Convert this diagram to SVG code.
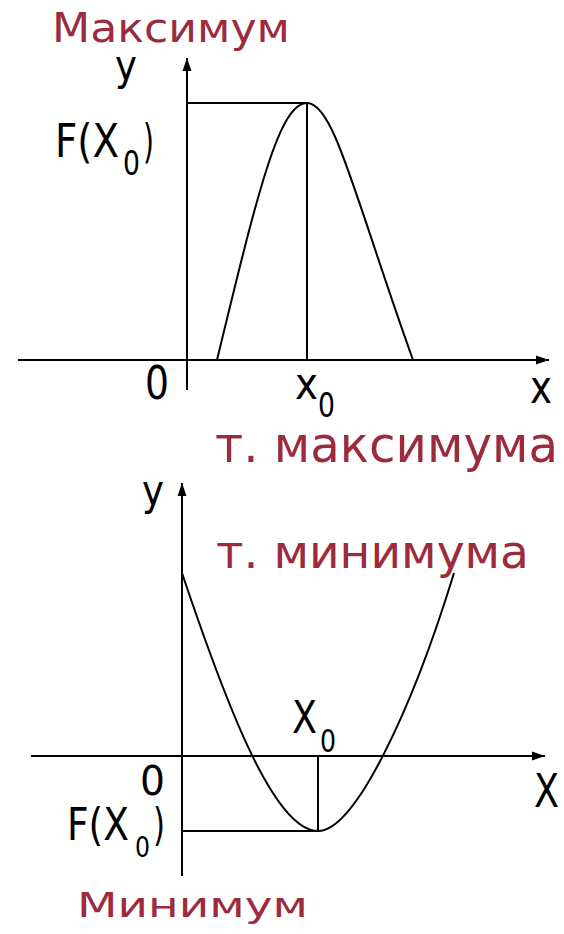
<svg xmlns="http://www.w3.org/2000/svg" width="564" height="934" viewBox="0 0 564 934">
<style>
  .ax { stroke:#000; stroke-width:2; fill:none; }
  .cv { stroke:#000; stroke-width:2; fill:none; }
  .gd { stroke:#000; stroke-width:2; fill:none; }
  .t { font-family:"DejaVu Sans","Liberation Sans",sans-serif; fill:#000; }
  .r { font-family:"DejaVu Sans","Liberation Sans",sans-serif; fill:#9c2b3c; }
</style>
<defs>
  <marker id="arr" markerUnits="userSpaceOnUse" markerWidth="14" markerHeight="10" refX="13" refY="5" orient="auto">
    <path d="M0,0.5 L13,5 L0,9.5 z" fill="#000"/>
  </marker>
</defs>
<rect width="564" height="934" fill="#fff"/>

<g id="connectors">
  <!-- top graph axes -->
  <line class="ax" x1="18" y1="360" x2="549" y2="360" marker-end="url(#arr)"/>
  <line class="ax" x1="187" y1="390" x2="187" y2="58" marker-end="url(#arr)"/>
  <!-- bottom graph axes -->
  <line class="ax" x1="31" y1="756" x2="545" y2="756" marker-end="url(#arr)"/>
  <line class="ax" x1="182" y1="876" x2="182" y2="483" marker-end="url(#arr)"/>
</g>

<g id="top-graph">
  <path class="gd" d="M187,103 H307 V360"/>
  <path class="cv" d="M217,360 C257,195 279,103 307,103 C334,103 354,195 413,360"/>
</g>

<g id="bottom-graph">
  <path class="gd" d="M182,831 H318 V756"/>
  <path class="cv" d="M182,573 C228,710 275,831 318,831 C355,831 412,710 454,573"/>
</g>

<g id="labels-top">
  <text id="lbl-max" class="r" x="52" y="42" font-size="40" textLength="238" lengthAdjust="spacingAndGlyphs">Максимум</text>
  <text class="t" x="115" y="80" font-size="42" textLength="22" lengthAdjust="spacingAndGlyphs">y</text>
  <text class="t" x="55" y="157" font-size="47" textLength="64" lengthAdjust="spacingAndGlyphs">F(X</text>
  <text class="t" x="123" y="175" font-size="34" textLength="17" lengthAdjust="spacingAndGlyphs">0</text>
  <text class="t" x="143" y="157" font-size="47" textLength="11" lengthAdjust="spacingAndGlyphs">)</text>
  <text class="t" x="145" y="399" font-size="47" textLength="24" lengthAdjust="spacingAndGlyphs">0</text>
  <text class="t" x="295" y="399" font-size="44" textLength="23" lengthAdjust="spacingAndGlyphs">x</text>
  <text class="t" x="318" y="417" font-size="34" textLength="17" lengthAdjust="spacingAndGlyphs">0</text>
  <text class="t" x="530" y="403" font-size="46" textLength="22" lengthAdjust="spacingAndGlyphs">x</text>
  <text id="lbl-tmax" class="r" x="215" y="462" font-size="49" textLength="343" lengthAdjust="spacingAndGlyphs">т. максимума</text>
</g>

<g id="labels-bottom">
  <text class="t" x="142" y="505" font-size="42" textLength="22" lengthAdjust="spacingAndGlyphs">y</text>
  <text id="lbl-tmin" class="r" x="216" y="568" font-size="47" textLength="313" lengthAdjust="spacingAndGlyphs">т. минимума</text>
  <text class="t" x="292" y="733" font-size="44" textLength="25" lengthAdjust="spacingAndGlyphs">X</text>
  <text class="t" x="320" y="752" font-size="32" textLength="16" lengthAdjust="spacingAndGlyphs">0</text>
  <text class="t" x="140" y="795" font-size="41" textLength="25" lengthAdjust="spacingAndGlyphs">0</text>
  <text class="t" x="67" y="840" font-size="44" textLength="62" lengthAdjust="spacingAndGlyphs">F(X</text>
  <text class="t" x="135" y="857" font-size="28" textLength="15" lengthAdjust="spacingAndGlyphs">0</text>
  <text class="t" x="153" y="840" font-size="44" textLength="12" lengthAdjust="spacingAndGlyphs">)</text>
  <text class="t" x="534" y="807" font-size="47" textLength="25" lengthAdjust="spacingAndGlyphs">X</text>
  <text id="lbl-min" class="r" x="77" y="917" font-size="34" textLength="231" lengthAdjust="spacingAndGlyphs">Минимум</text>
</g>
</svg>
